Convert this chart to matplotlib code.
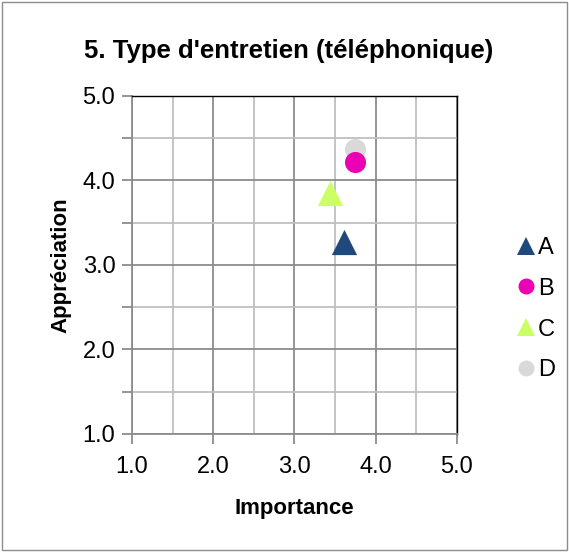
import matplotlib
matplotlib.use("Agg")
import matplotlib.pyplot as plt
from matplotlib.patches import Rectangle
from matplotlib.ticker import MultipleLocator
from matplotlib.lines import Line2D

plt.rcParams['font.family'] = ['Liberation Sans', 'DejaVu Sans']

labels = ['A', 'B', 'C', 'D']
importance = [3.61, 3.74, 3.44, 3.74]
appreciation = [3.27, 4.22, 3.85, 4.37]
markers = ['^', 'o', '^', 'o']
colors = ['#1f497d', '#ec00b4', '#ccff66', '#d9d9d9']
ticks = [1.0, 2.0, 3.0, 4.0, 5.0]
tick_labels = ['1.0', '2.0', '3.0', '4.0', '5.0']

fig = plt.figure(figsize=(5.69, 5.52), dpi=100)
fig.patches.append(Rectangle((0.004, 0.004), 0.992, 0.992, transform=fig.transFigure,
                             fill=False, edgecolor='#8c8c8c', linewidth=1.0))
ax = fig.add_axes([0.232, 0.2138, 0.571, 0.6124])

sizes = {'^': 330, 'o': 230}
order = [3, 0, 2, 1]
for i in order:
    ax.scatter(importance[i], appreciation[i], marker=markers[i], s=sizes[markers[i]],
               color=colors[i], zorder=3, linewidths=0)

ax.set_xlim(1, 5)
ax.set_ylim(1, 5)
ax.set_xticks(ticks)
ax.set_xticklabels(tick_labels)
ax.set_yticks(ticks)
ax.set_yticklabels(tick_labels)
ax.xaxis.set_minor_locator(MultipleLocator(0.5))
ax.yaxis.set_minor_locator(MultipleLocator(0.5))
ax.grid(which='major', color='#8c8c8c', linewidth=1.3, zorder=0)
ax.grid(which='minor', color='#bfbfbf', linewidth=1.3, zorder=0)
ax.set_axisbelow(True)
ax.tick_params(which='both', direction='out', color='#8c8c8c', width=1.3,
               labelsize=17, pad=5)
ax.tick_params(axis='x', which='major', length=7, pad=9)
ax.tick_params(axis='x', which='minor', length=0)
ax.tick_params(axis='y', which='both', length=7)
for s in ['left', 'bottom']:
    ax.spines[s].set_color('#8c8c8c')
    ax.spines[s].set_linewidth(1.3)
for s in ['top', 'right']:
    ax.spines[s].set_color('#000000')
    ax.spines[s].set_linewidth(1.0)

ax.set_xlabel('Importance', fontsize=16, fontweight='bold', labelpad=14)
ax.set_ylabel('Appréciation', fontsize=16, fontweight='bold', labelpad=8)
fig.text(0.508, 0.907, "5. Type d'entretien (téléphonique)", ha='center', va='center',
         fontsize=18.5, fontweight='bold')

handles = [Line2D([], [], linestyle='none', marker=markers[i], color=colors[i],
                  markersize=(13 if markers[i] == '^' else 11.5), markeredgewidth=0)
           for i in range(4)]
fig.legend(handles, labels, loc='center left',
           bbox_to_anchor=(0.887, 0.440), frameon=False, fontsize=17,
           handletextpad=0.0, labelspacing=0.8,
           borderaxespad=0, handlelength=1.0)

fig.savefig('out.png', dpi=100)
